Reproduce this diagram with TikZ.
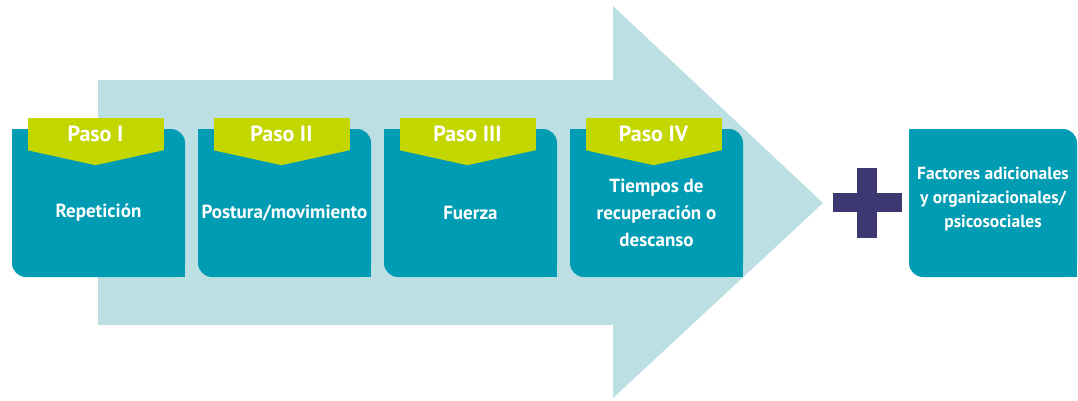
\documentclass[tikz,border=0pt]{standalone}
\usepackage{fontspec}
\setmainfont{PT Sans}
\usepackage{tikz}
\usetikzlibrary{positioning}

\definecolor{arrowblue}{HTML}{BCDFE4}
\definecolor{boxteal}{HTML}{009CB4}
\definecolor{tagyellow}{HTML}{C4D600}
\definecolor{plusviolet}{HTML}{3E3872}

\tikzset{
    stepbox/.style={rectangle, fill=boxteal, rounded corners=14pt, minimum width=173pt, minimum height=148pt, inner sep=0pt},
    steptag/.style={rectangle, fill=tagyellow, minimum width=136pt, minimum height=32pt, inner sep=0pt, text=white, font=\bfseries\fontsize{22}{24}\selectfont},
    steptext/.style={align=center, text=white, font=\bfseries\fontsize{19}{27}\selectfont},
    extratext/.style={align=center, text=white, font=\bfseries\fontsize{17.5}{24}\selectfont}
}

\begin{document}
\begin{tikzpicture}[x=1pt, y=-1pt]
    \useasboundingbox (0,0) rectangle (1078,400);
    % big arrow in the back
    \fill[arrowblue] (98,80) -- (613,80) -- (613,6) -- (823,203) -- (613,398) -- (613,325) -- (98,325) -- cycle;
    % the four steps
    \foreach \i/\paso/\txt in {1/Paso I/Repetición, 2/Paso II/{Postura/movimiento}, 3/Paso III/Fuerza, 4/Paso IV/{Tiempos de\\recuperación o\\descanso}} {
        \node[stepbox] (box\i) at (98.5+186*\i-186,203) {};
        \fill[boxteal] (box\i.north west) rectangle ++(14,14);
        \fill[boxteal] (box\i.south east) rectangle ++(-14,-14);
        \node[steptext] (text\i) at ([yshift=-10pt]box\i.center) {\txt};
        \node[steptag] (tag\i) at (95.5+186*\i-186,134) {\paso};
        \fill[tagyellow] (tag\i.south west) -- (tag\i.south east) -- ([yshift=-15pt]tag\i.south) -- cycle;
    }
    % plus sign
    \fill[plusviolet] (857,168) rectangle (877,238);
    \fill[plusviolet] (833,193) rectangle (902,212);
    % extra factors
    \node[stepbox, minimum width=168pt] (extra) at (993,203) {};
    \fill[boxteal] (extra.north west) rectangle ++(14,14);
    \fill[boxteal] (extra.south east) rectangle ++(-14,-14);
    \node[extratext] (extratxt) at ([yshift=4pt]extra.center) {Factores adicionales\\y organizacionales/\\psicosociales};
\end{tikzpicture}
\end{document}
